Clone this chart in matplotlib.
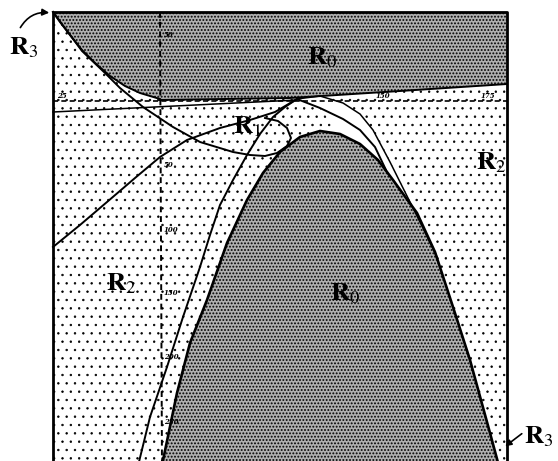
import numpy as np
import matplotlib.pyplot as plt

plt.rcParams['mathtext.fontset'] = 'stix'

# frame of the phase plane (pixel coords of the scan)
box_left, box_top, box_right, box_bottom = 53, 12, 507, 470

# lower edge of the upper R0 region
top_curve_x = [53, 60, 70, 82, 95, 110, 125, 140, 160]
top_curve_y = [12, 22, 35, 50, 63, 76, 86, 93, 99]
top_line_x = [160, 290, 400, 507]
top_line_y = [100, 98, 91, 84]

# curve leaving the corner and looping round R1
loop_x = [53, 82, 105, 120, 143, 173, 200, 233, 250, 265, 277, 287, 291, 287, 278, 265]
loop_y = [12, 51, 73, 88, 107, 127, 142, 152, 155, 156, 153, 146, 138, 128, 121, 118]

# rising line from the left edge through the apex (continues as inner arch)
rise_x = [53, 80, 107, 135, 160, 187, 220, 250, 275, 297, 320, 343, 360, 375, 386]
rise_y = [247, 225, 202, 178, 157, 140, 128, 120, 112, 99, 108, 119, 130, 147, 170]

# nearly flat line below the upper region
flat_x = [53, 297]
flat_y = [112, 100]

# outer arch
arch_left_x = [137, 150, 167, 183, 200, 210, 220, 233, 247, 260, 273, 285, 297]
arch_left_y = [470, 417, 367, 317, 267, 235, 205, 180, 155, 134, 117, 107, 99]
arch_right_x = [297, 320, 343, 360, 373, 390, 405, 420, 437]
arch_right_y = [99, 96, 103, 114, 130, 162, 192, 222, 257]

# boundary of the lower R0 region
dome_x = [161, 177, 190, 207, 227, 247, 263, 280, 300, 320, 340, 360, 378,
          393, 417, 435, 453, 470, 490, 500]
dome_y = [470, 393, 343, 300, 243, 200, 173, 152, 137, 131, 134, 144, 160,
          180, 213, 252, 307, 360, 433, 470]

# dashed reference lines and their marks
h_dash_y = 101
v_dash_x = 160
h_marks = ['25', '150', '175']
h_mark_x = [62, 383, 488]
v_marks = ['50', '50', '100', '150', '200', '250']
v_mark_y = [35, 165, 230, 293, 357, 422]

labels = [r'$\mathbf{R}_0$', r'$\mathbf{R}_1$', r'$\mathbf{R}_2$', r'$\mathbf{R}_2$',
          r'$\mathbf{R}_0$', r'$\mathbf{R}_3$', r'$\mathbf{R}_3$']
label_x = [322, 247, 491, 121, 345, 24, 539]
label_y = [57, 126, 162, 283, 293, 47, 436]

fig = plt.figure(figsize=(5.58, 4.61), dpi=100)
ax = fig.add_axes([0, 0, 1, 1])
ax.set_xlim(0, 558)
ax.set_ylim(461, 0)
ax.axis('off')

# sparse stipple background (R2)
plt.rcParams['hatch.linewidth'] = 0.5
ax.fill([box_left, box_right, box_right, box_left],
        [box_top, box_top, box_bottom, box_bottom],
        facecolor='white', edgecolor='black', hatch='..', linewidth=0, zorder=1)

plt.rcParams['hatch.linewidth'] = 0.9
# upper R0
ux = [box_left, box_right] + top_line_x[::-1] + top_curve_x[::-1]
uy = [box_top, box_top] + top_line_y[::-1] + top_curve_y[::-1]
ax.fill(ux, uy, facecolor='#b0b0b0', edgecolor='black', hatch='.....',
        linewidth=0, zorder=2)

# clear band between outer arch and dome on the right
bx = arch_right_x + dome_x[15:9:-1] + rise_x[10:9:-1]
by = arch_right_y + dome_y[15:9:-1] + rise_y[10:9:-1]
ax.fill(bx, by, facecolor='white', linewidth=0, zorder=2)

# lower R0
ax.fill(dome_x, dome_y, facecolor='#b0b0b0', edgecolor='black', hatch='.....',
        linewidth=0, zorder=2)

lw = 1.4
ax.plot(top_curve_x, top_curve_y, color='black', lw=lw, zorder=4)
ax.plot(top_line_x, top_line_y, color='black', lw=lw, zorder=4)
ax.plot(loop_x, loop_y, color='black', lw=lw, zorder=4)
ax.plot(rise_x, rise_y, color='black', lw=lw, zorder=4)
ax.plot(flat_x, flat_y, color='black', lw=1.1, zorder=4)
ax.plot(arch_left_x, arch_left_y, color='black', lw=lw, zorder=4)
ax.plot(arch_right_x, arch_right_y, color='black', lw=1.1, zorder=4)
ax.plot(dome_x, dome_y, color='black', lw=1.9, zorder=4)

ax.plot([box_left, box_right], [h_dash_y, h_dash_y], color='black', lw=1.2,
        ls=(0, (3, 2)), zorder=4)
ax.plot([v_dash_x, v_dash_x + 2], [box_top, box_bottom], color='black', lw=1.4,
        ls=(0, (3, 2)), zorder=4)
for t, x in zip(h_marks, h_mark_x):
    ax.text(x, h_dash_y - 1, t, fontsize=5, style='italic', fontweight='bold',
            ha='center', va='bottom', family='DejaVu Serif', zorder=5)
for t, y in zip(v_marks, v_mark_y):
    ax.text(v_dash_x + 4, y, t, fontsize=5, style='italic', fontweight='bold',
            ha='left', va='center', family='DejaVu Serif', zorder=5)

# frame
ax.plot([box_left, box_left, box_right, box_right],
        [box_bottom, box_top, box_top, box_bottom], color='black', lw=2, zorder=6)

for t, x, y in zip(labels, label_x, label_y):
    ax.text(x, y, t, fontsize=19, ha='center', va='center', zorder=7)

ax.annotate('', xy=(52, 13), xytext=(19, 30),
            arrowprops=dict(arrowstyle='-|>', color='black', lw=1.2,
                            connectionstyle='arc3,rad=-0.35', mutation_scale=10),
            zorder=7)
ax.annotate('', xy=(503, 448), xytext=(524, 432),
            arrowprops=dict(arrowstyle='-|>', color='black', lw=1.2,
                            mutation_scale=9), zorder=7)

fig.savefig('out.png', dpi=100)
